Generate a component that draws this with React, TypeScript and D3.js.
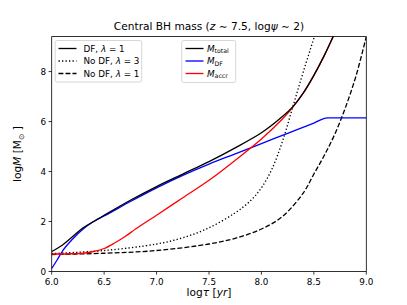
import React from "react";
import * as d3 from "d3";

const W = 407, H = 305;
const M = { left: 51.7, right: 366.3, top: 36.6, bottom: 271.5 };

const xTicks = [6.0, 6.5, 7.0, 7.5, 8.0, 8.5, 9.0];
const yTicks = [0, 2, 4, 6, 8];

// M_total (DF, lambda=1)
const totalX = [6.0, 6.1, 6.2, 6.3, 6.4, 6.5, 6.75, 7.0, 7.25, 7.5, 7.75, 8.0, 8.2, 8.3, 8.4, 8.5, 8.6, 8.7];
const totalY = [0.8, 1.05, 1.4, 1.75, 2.0, 2.25, 2.85, 3.4, 3.9, 4.4, 4.95, 5.55, 6.2, 6.6, 7.15, 7.85, 8.65, 9.55];
// M_DF
const dfX = [6.0, 6.05, 6.1, 6.2, 6.3, 6.4, 6.5, 6.75, 7.0, 7.25, 7.5, 7.75, 8.0, 8.25, 8.5, 8.63, 9.0];
const dfY = [0.12, 0.45, 0.8, 1.3, 1.7, 2.0, 2.22, 2.8, 3.35, 3.85, 4.3, 4.71, 5.12, 5.53, 5.94, 6.15, 6.15];
// M_accr
const accrX = [6.0, 6.2, 6.3, 6.4, 6.5, 6.6, 6.7, 6.8, 6.9, 7.0, 7.25, 7.5, 7.75, 8.0, 8.2, 8.3, 8.4, 8.5, 8.6, 8.7];
const accrY = [0.7, 0.71, 0.73, 0.8, 0.92, 1.14, 1.4, 1.7, 1.98, 2.25, 2.95, 3.65, 4.45, 5.3, 6.1, 6.58, 7.15, 7.85, 8.65, 9.55];
// No DF, lambda=3
const nd3X = [6.0, 6.5, 7.0, 7.25, 7.5, 7.75, 7.9, 8.0, 8.1, 8.2, 8.3, 8.4, 8.52];
const nd3Y = [0.72, 0.84, 1.1, 1.35, 1.75, 2.35, 2.85, 3.35, 4.1, 5.2, 6.6, 8.0, 9.6];
// No DF, lambda=1
const nd1X = [6.0, 6.5, 7.0, 7.5, 7.75, 8.0, 8.2, 8.4, 8.5, 8.6, 8.7, 8.8, 8.9, 9.0];
const nd1Y = [0.68, 0.73, 0.84, 1.1, 1.33, 1.7, 2.2, 3.15, 3.9, 4.65, 5.5, 6.55, 7.8, 9.4];

const x = d3.scaleLinear().domain([6, 9]).range([M.left, M.right]);
const y = d3.scaleLinear().domain([0, 9.4]).range([M.bottom, M.top]);

const zip = (xs: number[], ys: number[]) => xs.map((v, i) => [v, ys[i]] as [number, number]);
const smooth = d3.line<[number, number]>().x(d => x(d[0])).y(d => y(d[1])).curve(d3.curveCatmullRom.alpha(0.5));
const mono = d3.line<[number, number]>().x(d => x(d[0])).y(d => y(d[1])).curve(d3.curveMonotoneX);

const LW = 1.32;
const font = "DejaVu Sans, sans-serif";

export default function App() {
  const leg1 = [
    { label: ["DF, ", "λ", " = 1"], dash: "" },
    { label: ["No DF, ", "λ", " = 3"], dash: `${1 * LW},${1.65 * LW}` },
    { label: ["No DF, ", "λ", " = 1"], dash: `${3.7 * LW},${1.6 * LW}` },
  ];
  const leg2 = [
    { sub: "total", color: "#000" },
    { sub: "DF", color: "#0000ff" },
    { sub: "accr", color: "#ff0000" },
  ];
  const rowY = [48.5, 61, 73.5];
  return (
    <svg width={W} height={H} style={{ position: "absolute", left: 0, top: 0 }} fontFamily={font}>
      <defs>
        <clipPath id="plot">
          <rect x={M.left} y={M.top} width={M.right - M.left} height={M.bottom - M.top} />
        </clipPath>
      </defs>
      <rect x={0} y={0} width={W} height={H} fill="#fff" />
      <g clipPath="url(#plot)" fill="none" strokeWidth={LW}>
        <path d={smooth(zip(nd3X, nd3Y)) || ""} stroke="#000" strokeDasharray={`${1 * LW},${1.65 * LW}`} />
        <path d={smooth(zip(nd1X, nd1Y)) || ""} stroke="#000" strokeDasharray={`${3.7 * LW},${1.6 * LW}`} />
        <path d={mono(zip(dfX, dfY)) || ""} stroke="#0000ff" />
        <path d={smooth(zip(accrX, accrY)) || ""} stroke="#ff0000" />
        <path d={smooth(zip(totalX, totalY)) || ""} stroke="#000" />
      </g>
      {/* spines */}
      <rect x={M.left} y={M.top} width={M.right - M.left} height={M.bottom - M.top} fill="none" stroke="#000" strokeWidth={0.8} />
      {/* x ticks */}
      {xTicks.map(t => (
        <g key={"x" + t}>
          <line x1={x(t)} x2={x(t)} y1={M.bottom} y2={M.bottom + 3.1} stroke="#000" strokeWidth={0.8} />
          <text x={x(t)} y={M.bottom + 13} fontSize={8.8} textAnchor="middle" fill="#000">{t.toFixed(1)}</text>
        </g>
      ))}
      {yTicks.map(t => (
        <g key={"y" + t}>
          <line x1={M.left - 3.1} x2={M.left} y1={y(t)} y2={y(t)} stroke="#000" strokeWidth={0.8} />
          <text x={M.left - 5.5} y={y(t) + 3.2} fontSize={8.8} textAnchor="end" fill="#000">{t}</text>
        </g>
      ))}
      {/* title */}
      <text x={(M.left + M.right) / 2} y={30} fontSize={10.6} textAnchor="middle" fill="#000">
        Central BH mass (<tspan fontStyle="italic">z</tspan> ∼ 7.5, log<tspan fontStyle="italic">ψ</tspan> ∼ 2)
      </text>
      {/* x label */}
      <text x={(M.left + M.right) / 2} y={296} fontSize={10.6} textAnchor="middle" fill="#000">
        log<tspan fontStyle="italic">τ</tspan> [<tspan fontStyle="italic">yr</tspan>]
      </text>
      {/* y label */}
      <text transform={`translate(21,${(M.top + M.bottom) / 2}) rotate(-90)`} fontSize={10.6} textAnchor="middle" fill="#000">
        log<tspan fontStyle="italic">M</tspan> [M<tspan fontSize={7.5} dy={2.5}>⊙</tspan><tspan dy={-2.5}> ]</tspan>
      </text>
      {/* legend 1 */}
      <rect x={55.2} y={40.5} width={86.5} height={41.5} rx={2} fill="#fff" fillOpacity={0.8} stroke="#cccccc" strokeWidth={0.8} />
      {leg1.map((e, i) => (
        <g key={"l1" + i}>
          <line x1={58.5} x2={76.5} y1={rowY[i]} y2={rowY[i]} stroke="#000" strokeWidth={LW} strokeDasharray={e.dash || undefined} />
          <text x={83.5} y={rowY[i] + 3.2} fontSize={8.8} fill="#000">
            {e.label[0]}<tspan fontStyle="italic">{e.label[1]}</tspan>{e.label[2]}
          </text>
        </g>
      ))}
      {/* legend 2 */}
      <rect x={181.7} y={40.5} width={54} height={42} rx={2} fill="#fff" fillOpacity={0.8} stroke="#cccccc" strokeWidth={0.8} />
      {leg2.map((e, i) => (
        <g key={"l2" + i}>
          <line x1={185.5} x2={203.5} y1={rowY[i]} y2={rowY[i]} stroke={e.color} strokeWidth={LW} />
          <text x={207} y={rowY[i] + 3.2} fontSize={8.8} fill="#000">
            <tspan fontStyle="italic">M</tspan><tspan fontSize={6.2} dy={1.6}>{e.sub}</tspan>
          </text>
        </g>
      ))}
    </svg>
  );
}
